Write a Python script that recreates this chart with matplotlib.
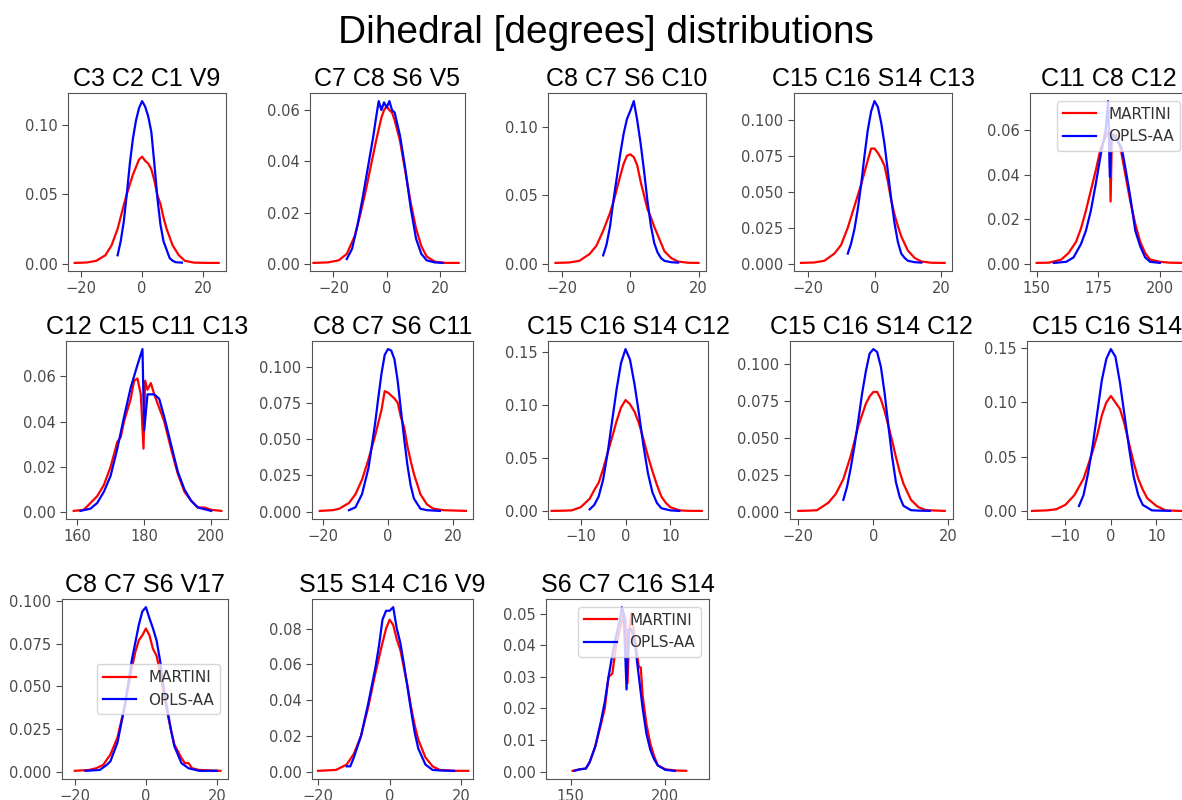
import matplotlib
matplotlib.use("Agg")
import matplotlib.pyplot as plt
from matplotlib.ticker import MultipleLocator

# panel titles (row by row)
titles = ["C3 C2 C1 V9", "C7 C8 S6 V5", "C8 C7 S6 C10", "C15 C16 S14 C13", "C11 C8 C12",
          "C12 C15 C11 C13", "C8 C7 S6 C11", "C15 C16 S14 C12", "C15 C16 S14 C12", "C15 C16 S14",
          "C8 C7 S6 V17", "S15 S14 C16 V9", "S6 C7 C16 S14"]

# MARTINI (m) and OPLS-AA (o) distributions
d1_mx = [-22, -18, -15, -12, -10, -8, -6, -5, -3, -1, 0, 1, 2, 3, 4, 5, 6, 7, 8, 10, 12, 14, 17, 21, 25]
d1_my = [0.0005, 0.0008, 0.002, 0.006, 0.013, 0.025, 0.042, 0.050, 0.064, 0.075, 0.077, 0.074, 0.072, 0.068,
         0.060, 0.049, 0.043, 0.033, 0.025, 0.013, 0.006, 0.002, 0.0007, 0.0005, 0.0005]
d1_ox = [-8, -7, -6, -5, -4, -3, -2, -1, 0, 1, 2, 3, 4, 5, 6, 7, 8, 9, 10, 11, 13]
d1_oy = [0.006, 0.016, 0.030, 0.050, 0.072, 0.090, 0.103, 0.112, 0.117, 0.113, 0.106, 0.095, 0.072, 0.047,
         0.028, 0.016, 0.010, 0.004, 0.002, 0.001, 0.0007]

d2_mx = [-27.5, -22, -18, -15, -12, -10, -8, -6, -4, -2, -1, 0, 1, 2, 3, 5, 7, 9, 11, 13, 15, 18, 22, 27]
d2_my = [0.0005, 0.0007, 0.0015, 0.004, 0.011, 0.019, 0.028, 0.038, 0.048, 0.057, 0.060, 0.0615, 0.060,
         0.059, 0.056, 0.048, 0.036, 0.024, 0.014, 0.007, 0.003, 0.001, 0.0005, 0.0005]
d2_ox = [-15, -13, -11, -9, -7, -5, -4, -3, -2, -1, 0, 1, 2, 3, 5, 7, 9, 11, 13, 15, 18, 21]
d2_oy = [0.002, 0.006, 0.015, 0.026, 0.038, 0.050, 0.057, 0.0635, 0.060, 0.063, 0.061, 0.0635, 0.060,
         0.059, 0.050, 0.037, 0.022, 0.010, 0.004, 0.0015, 0.0007, 0.0005]

d3_mx = [-22, -18, -15, -12, -10, -8, -6, -5, -3, -2, -1, 0, 1, 2, 3, 4, 5, 6, 7, 8, 10, 12, 14, 17, 20]
d3_my = [0.0005, 0.0008, 0.002, 0.007, 0.013, 0.024, 0.037, 0.045, 0.064, 0.073, 0.079, 0.080, 0.078, 0.072,
         0.060, 0.050, 0.040, 0.034, 0.027, 0.021, 0.009, 0.004, 0.0015, 0.0006, 0.0005]
d3_ox = [-8, -7, -6, -5, -4, -3, -2, -1, 0, 1, 2, 3, 4, 5, 6, 7, 8, 9, 10, 12, 14]
d3_oy = [0.006, 0.014, 0.027, 0.046, 0.063, 0.080, 0.095, 0.106, 0.112, 0.119, 0.105, 0.088, 0.068, 0.046,
         0.028, 0.015, 0.008, 0.004, 0.002, 0.001, 0.0007]

d4_mx = [-22, -18, -15, -12, -10, -8, -6, -4, -2, -1, 0, 1, 2, 3, 4, 5, 6, 7, 8, 10, 12, 14, 17, 21]
d4_my = [0.0005, 0.0008, 0.002, 0.007, 0.013, 0.025, 0.040, 0.055, 0.072, 0.080, 0.080, 0.077, 0.073, 0.068,
         0.057, 0.044, 0.034, 0.026, 0.019, 0.009, 0.004, 0.0015, 0.0006, 0.0005]
d4_ox = [-8, -7, -6, -5, -4, -3, -2, -1, 0, 1, 2, 3, 4, 5, 6, 7, 8, 9, 10, 12, 14]
d4_oy = [0.007, 0.014, 0.024, 0.038, 0.055, 0.075, 0.093, 0.106, 0.113, 0.109, 0.098, 0.083, 0.064, 0.045,
         0.028, 0.015, 0.007, 0.004, 0.002, 0.001, 0.0007]

d5_mx = [150, 155, 160, 163, 166, 168, 170, 172, 174, 176, 178, 179.5, 180, 180.5, 182, 184, 186, 188, 190,
         192, 194, 196, 200, 204, 208.5]
d5_my = [0.0005, 0.0006, 0.002, 0.005, 0.010, 0.016, 0.024, 0.033, 0.042, 0.052, 0.057, 0.060, 0.028, 0.056,
         0.058, 0.052, 0.040, 0.028, 0.018, 0.010, 0.005, 0.002, 0.001, 0.0006, 0.0005]
d5_ox = [157, 162, 165, 168, 170, 172, 174, 176, 178, 179, 179.7, 180.3, 181, 183, 184.5, 186, 188, 190,
         192, 194, 196, 200]
d5_oy = [0.0005, 0.001, 0.003, 0.009, 0.015, 0.024, 0.036, 0.049, 0.060, 0.073, 0.039, 0.056, 0.058, 0.055,
         0.052, 0.043, 0.030, 0.015, 0.008, 0.003, 0.001, 0.0005]

d6_mx = [159, 162, 164, 166, 168, 170, 172, 173, 174, 176, 177, 178, 179, 179.8, 180.3, 181, 182, 183, 184,
         186, 188, 190, 192, 194, 196, 198, 200, 203]
d6_my = [0.0005, 0.001, 0.004, 0.007, 0.012, 0.020, 0.031, 0.033, 0.040, 0.050, 0.058, 0.059, 0.052, 0.028,
         0.058, 0.054, 0.057, 0.052, 0.048, 0.040, 0.028, 0.017, 0.009, 0.005, 0.002, 0.002, 0.001, 0.0005]
d6_ox = [161, 164, 166, 168, 170, 172, 174, 176, 178, 179.5, 180, 181, 183, 184.5, 186, 188, 190, 192, 194,
         196, 200]
d6_oy = [0.0005, 0.0015, 0.004, 0.009, 0.016, 0.028, 0.042, 0.055, 0.065, 0.072, 0.036, 0.052, 0.052, 0.050,
         0.042, 0.030, 0.018, 0.010, 0.005, 0.002, 0.0005]

d7_mx = [-21, -17, -15, -12, -10, -8, -6, -4, -2, -1, 0, 1, 2, 3, 4, 5, 6, 7, 8, 10, 12, 14, 17, 24]
d7_my = [0.0005, 0.001, 0.002, 0.006, 0.012, 0.022, 0.036, 0.052, 0.070, 0.083, 0.082, 0.080, 0.078, 0.075,
         0.065, 0.058, 0.045, 0.035, 0.026, 0.012, 0.005, 0.002, 0.001, 0.0005]
d7_ox = [-12, -10, -8, -6, -4, -3, -2, -1, 0, 1, 2, 3, 4, 5, 6, 7, 8, 10, 12, 16]
d7_oy = [0.001, 0.003, 0.012, 0.030, 0.060, 0.078, 0.095, 0.108, 0.112, 0.111, 0.105, 0.090, 0.070, 0.050,
         0.032, 0.018, 0.009, 0.002, 0.001, 0.0005]

d8_mx = [-16.5, -14, -12, -10, -8, -7, -6, -5, -4, -3, -2, -1, 0, 1, 2, 3, 4, 5, 6, 7, 8, 9, 10, 12, 14, 17]
d8_my = [0.0005, 0.0007, 0.001, 0.004, 0.012, 0.020, 0.027, 0.040, 0.055, 0.070, 0.085, 0.098, 0.105, 0.101,
         0.094, 0.083, 0.068, 0.052, 0.038, 0.025, 0.014, 0.008, 0.004, 0.001, 0.0006, 0.0005]
d8_ox = [-8, -7, -6, -5, -4, -3, -2, -1, 0, 1, 2, 3, 4, 5, 6, 7, 8, 10, 12]
d8_oy = [0.002, 0.006, 0.014, 0.030, 0.055, 0.085, 0.115, 0.140, 0.153, 0.143, 0.120, 0.092, 0.062, 0.036,
         0.018, 0.008, 0.003, 0.001, 0.0005]

d9_mx = [-20, -17, -15, -12, -10, -8, -6, -4, -2, -1, 0, 1, 2, 3, 4, 5, 6, 7, 8, 10, 12, 14, 19]
d9_my = [0.0005, 0.0007, 0.001, 0.006, 0.012, 0.022, 0.038, 0.058, 0.073, 0.078, 0.081, 0.081, 0.076, 0.068,
         0.058, 0.048, 0.037, 0.027, 0.019, 0.008, 0.003, 0.001, 0.0005]
d9_ox = [-8, -7, -6, -5, -4, -3, -2, -1, 0, 1, 2, 3, 4, 5, 6, 7, 8, 10, 12, 15]
d9_oy = [0.008, 0.017, 0.030, 0.045, 0.062, 0.080, 0.095, 0.107, 0.110, 0.108, 0.098, 0.080, 0.058, 0.037,
         0.020, 0.010, 0.004, 0.001, 0.0007, 0.0005]

d10_mx = [-17.3, -14, -12, -10, -8, -6, -4, -3, -2, -1, 0, 1, 2, 3, 4, 5, 6, 7, 8, 10, 12, 15, 17]
d10_my = [0.0005, 0.001, 0.002, 0.006, 0.015, 0.030, 0.055, 0.070, 0.088, 0.100, 0.106, 0.100, 0.094, 0.080,
          0.062, 0.045, 0.030, 0.020, 0.012, 0.005, 0.001, 0.0005, 0.0005]
d10_ox = [-7, -6, -5, -4, -3, -2, -1, 0, 1, 2, 3, 4, 5, 6, 7, 9, 13]
d10_oy = [0.005, 0.015, 0.035, 0.060, 0.090, 0.120, 0.140, 0.149, 0.142, 0.118, 0.088, 0.058, 0.032, 0.015,
          0.006, 0.001, 0.0005]

d11_mx = [-20, -16, -14, -12, -10, -8, -6, -4, -3, -2, -1, 0, 1, 2, 3, 4, 5, 6, 7, 8, 10, 11, 12, 13, 15, 21]
d11_my = [0.0005, 0.001, 0.002, 0.004, 0.010, 0.020, 0.038, 0.060, 0.070, 0.077, 0.080, 0.084, 0.080, 0.072,
          0.068, 0.058, 0.045, 0.035, 0.025, 0.016, 0.008, 0.005, 0.005, 0.002, 0.001, 0.0005]
d11_ox = [-17, -13, -11, -10, -8, -6, -4, -2, -1, 0, 1, 2, 3, 4, 5, 6, 7, 8, 10, 12, 15, 20]
d11_oy = [0.0005, 0.001, 0.004, 0.006, 0.017, 0.038, 0.065, 0.086, 0.094, 0.0965, 0.090, 0.084, 0.077, 0.065,
          0.050, 0.037, 0.025, 0.015, 0.005, 0.002, 0.0005, 0.0005]

d12_mx = [-20, -15, -12, -10, -8, -6, -4, -2, -1, 0, 1, 2, 3, 4, 5, 6, 7, 8, 10, 12, 14, 18, 22]
d12_my = [0.0005, 0.001, 0.004, 0.010, 0.020, 0.036, 0.055, 0.072, 0.080, 0.085, 0.082, 0.074, 0.068, 0.058,
          0.048, 0.036, 0.026, 0.018, 0.008, 0.003, 0.001, 0.0005, 0.0005]
d12_ox = [-12, -11, -10, -8, -6, -4, -3, -2, -1, 0, 1, 2, 3, 4, 5, 6, 7, 8, 10, 12, 15, 18]
d12_oy = [0.003, 0.003, 0.008, 0.020, 0.038, 0.058, 0.070, 0.085, 0.090, 0.090, 0.092, 0.080, 0.072, 0.060,
          0.047, 0.034, 0.022, 0.013, 0.004, 0.001, 0.0006, 0.0005]

d13_mx = [151, 155, 158, 160, 163, 166, 168, 170, 172, 174, 176, 178, 179, 180, 181, 182, 184, 186, 187, 188,
          190, 192, 194, 196, 200, 205, 211]
d13_my = [0.0003, 0.0008, 0.001, 0.003, 0.008, 0.015, 0.020, 0.030, 0.031, 0.040, 0.045, 0.050, 0.048, 0.028,
          0.045, 0.050, 0.042, 0.033, 0.033, 0.024, 0.015, 0.009, 0.005, 0.002, 0.0008, 0.0004, 0.0003]
d13_ox = [152, 155, 158, 160, 163, 166, 168, 170, 172, 174, 176, 177, 178, 179.5, 180.5, 182, 184, 186, 188,
          190, 192, 194, 196, 200, 205]
d13_oy = [0.0003, 0.0008, 0.001, 0.003, 0.008, 0.016, 0.022, 0.030, 0.037, 0.043, 0.048, 0.052, 0.050, 0.026,
          0.045, 0.045, 0.040, 0.030, 0.020, 0.012, 0.007, 0.004, 0.002, 0.0006, 0.0003]

panels = [
    (d1_mx, d1_my, d1_ox, d1_oy), (d2_mx, d2_my, d2_ox, d2_oy), (d3_mx, d3_my, d3_ox, d3_oy),
    (d4_mx, d4_my, d4_ox, d4_oy), (d5_mx, d5_my, d5_ox, d5_oy), (d6_mx, d6_my, d6_ox, d6_oy),
    (d7_mx, d7_my, d7_ox, d7_oy), (d8_mx, d8_my, d8_ox, d8_oy), (d9_mx, d9_my, d9_ox, d9_oy),
    (d10_mx, d10_my, d10_ox, d10_oy), (d11_mx, d11_my, d11_ox, d11_oy), (d12_mx, d12_my, d12_ox, d12_oy),
    (d13_mx, d13_my, d13_ox, d13_oy),
]

# y tick spacing per panel
ysteps = [0.05, 0.02, 0.05, 0.025, 0.02,
          0.02, 0.025, 0.05, 0.025, 0.05,
          0.025, 0.02, 0.01]

# layout in pixels: left, top, width, height
W, H = 1182, 800
boxes = [
    (68, 93, 158, 178), (310, 93, 155, 178), (548, 93, 158, 178), (794, 93, 158, 178), (1030, 93, 158, 178),
    (66, 341, 162, 178), (312, 341, 161, 178), (548, 341, 160, 178), (790, 341, 163, 178), (1027, 341, 160, 178),
    (62, 599, 166, 180), (312, 599, 161, 180), (546, 599, 163, 180),
]
xlims = [(-24.2, 27.4), (-28.8, 29.4), (-24.2, 22.2), (-24.1, 23.2), (147.3, 211.4),
         (156.7, 205.0), (-23.4, 26.2), (-17.3, 18.4), (-22.2, 21.2), (-18.4, 16.7),
         (-23.6, 23.1), (-21.7, 23.3), (137.0, 223.0)]
legend_locs = {4: "upper right", 10: "center right", 12: "upper right"}

fig = plt.figure(figsize=(W / 100, H / 100), dpi=100)

fig.text(0.513, 0.959, "Dihedral [degrees] distributions", ha="center", va="center",
         fontsize=28, family="Liberation Sans")

for i, (mx, my, ox, oy) in enumerate(panels):
    l, t, w, h = boxes[i]
    ax = fig.add_axes([l / W, 1 - (t + h) / H, w / W, h / H])
    ax.plot(mx, my, color="red", lw=1.6, label="MARTINI")
    ax.plot(ox, oy, color="blue", lw=1.6, label="OPLS-AA")
    ax.set_xlim(*xlims[i])
    ax.yaxis.set_major_locator(MultipleLocator(ysteps[i]))
    ax.set_title(titles[i], fontsize=18, family="Liberation Sans", pad=5)
    ax.tick_params(labelsize=10.5, colors="#4a4a4a", length=4)
    for s in ax.spines.values():
        s.set_color("#555555")
    if i in legend_locs:
        leg = ax.legend(loc=legend_locs[i], fontsize=11, handlelength=2.2)
        for txt in leg.get_texts():
            txt.set_color("#333333")

fig.savefig("out.png", dpi=100)
